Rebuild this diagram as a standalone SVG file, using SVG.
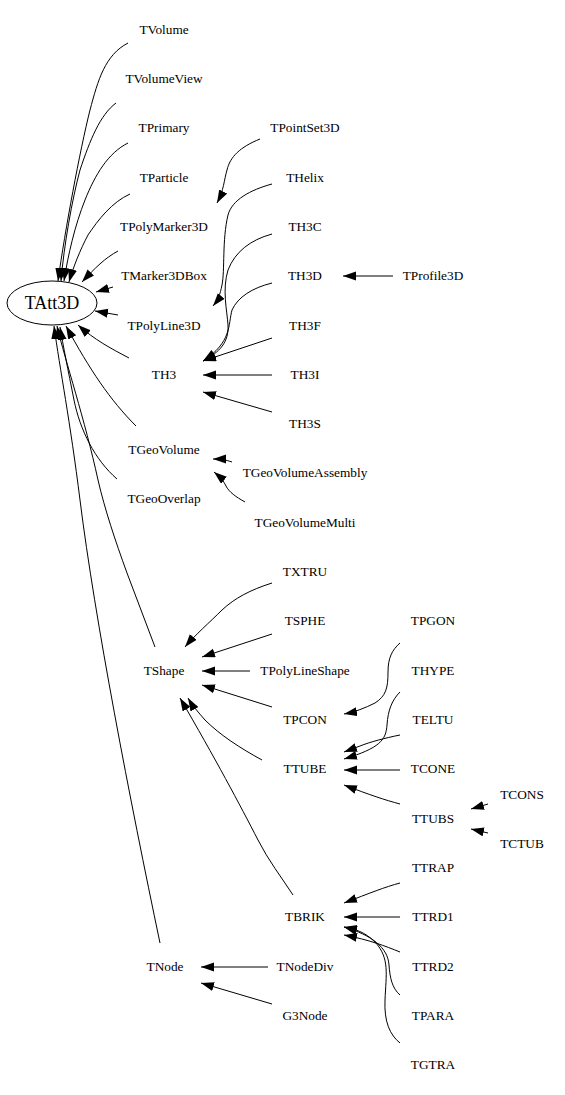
<svg xmlns="http://www.w3.org/2000/svg" width="565" height="1095" viewBox="0 0 565 1095">
<style>
text{font-family:"Liberation Serif","Times New Roman",serif;font-size:13.3px;text-anchor:middle;fill:#000}
.big{font-size:18px}
.e{fill:none;stroke:#000;stroke-width:1;marker-end:url(#ah)}
</style>
<defs>
<marker id="ah" markerUnits="userSpaceOnUse" markerWidth="14" markerHeight="10" refX="13" refY="4.5" orient="auto"><path d="M0,0 L13,4.5 L0,9 z" fill="#000"/></marker>
</defs>
<rect width="565" height="1095" fill="#fff"/>
<g id="connectors">
<path class="e" d="M128,43 C105,55 98,80 90,110 C80,150 65,230 58,281"/>
<path class="e" d="M116,103 C100,115 90,140 80,170 C72,200 64,245 61,281"/>
<path class="e" d="M128,143 C108,153 95,175 85,200 C75,225 68,255 64,281"/>
<path class="e" d="M130,194 C112,202 98,220 88,235 C80,250 73,268 69,282"/>
<path class="e" d="M118,251 C105,258 95,268 82,282"/>
<path class="e" d="M113,287 L96,292"/>
<path class="e" d="M118,315 L95,311"/>
<path class="e" d="M129,358 C110,348 95,340 78,325"/>
<path class="e" d="M136,426 C110,400 90,370 66,326"/>
<path class="e" d="M117,479 C95,460 80,430 74,400 C68,370 63,345 60,327"/>
<path class="e" d="M155,647 L127,573 C115,540 105,510 98,480 C85,420 65,360 57,326"/>
<path class="e" d="M160,943 C130,800 95,620 80,500 C70,420 60,370 54,326"/>
<path class="e" d="M260,139 C240,147 230,157 227,170 C224,180 224,190 217,203"/>
<path class="e" d="M272,184 C250,190 232,200 228,215 C222,240 225,270 222,285 C220,295 218,300 213,306"/>
<path class="e" d="M272,234 C250,240 235,252 228,270 C222,290 227,310 228,325 C229,342 220,352 203,361"/>
<path class="e" d="M272,283 C252,288 238,297 232,310 C228,325 232,342 203,361"/>
<path class="e" d="M272,338 L203,361"/>
<path class="e" d="M272,375 L203,375"/>
<path class="e" d="M272,412 L203,392"/>
<path class="e" d="M393,276 L343,276"/>
<path class="e" d="M232,462 C226,460 222,459 213,459"/>
<path class="e" d="M245,502 C236,497 229,492 226,486 C223,480 220,477 214,472"/>
<path class="e" d="M272,583 C250,590 235,598 222,610 C210,622 195,635 185,647"/>
<path class="e" d="M272,634 L202,657"/>
<path class="e" d="M250,671 L202,671"/>
<path class="e" d="M272,707 L202,685"/>
<path class="e" d="M262,760 C240,748 220,735 205,720 C198,712 192,705 188,698"/>
<path class="e" d="M293,895 C282,878 268,860 258,840 C240,805 215,758 180,698"/>
<path class="e" d="M400,643 C392,650 388,658 388,672 C388,688 386,696 375,703 C365,708 355,712 344,714"/>
<path class="e" d="M400,692 C392,700 388,710 387,725 C386,740 380,748 344,759"/>
<path class="e" d="M400,735 C385,738 370,742 360,746 L344,752"/>
<path class="e" d="M400,770 L344,770"/>
<path class="e" d="M400,804 C385,800 370,795 344,785"/>
<path class="e" d="M488,804 L471,809"/>
<path class="e" d="M488,833 L471,829"/>
<path class="e" d="M400,883 C385,887 370,893 344,903"/>
<path class="e" d="M400,917 L344,917"/>
<path class="e" d="M400,952 C385,946 370,940 344,935"/>
<path class="e" d="M400,995 C392,988 390,978 389,965 C388,948 372,935 344,927"/>
<path class="e" d="M400,1043 C390,1035 384,1022 385,1000 C386,975 390,958 375,942 C365,932 355,929 344,927"/>
<path class="e" d="M268,967 L201,967"/>
<path class="e" d="M272,1004 L201,983"/>
</g>
<g id="TAtt3D"><ellipse cx="52" cy="303" rx="45" ry="22" fill="none" stroke="#000"/><text class="big" x="52" y="309">TAtt3D</text></g>
<g id="TVolume"><text x="164" y="34">TVolume</text></g>
<g id="TVolumeView"><text x="164" y="83">TVolumeView</text></g>
<g id="TPrimary"><text x="164" y="132">TPrimary</text></g>
<g id="TParticle"><text x="164" y="182">TParticle</text></g>
<g id="TPolyMarker3D"><text x="164" y="231">TPolyMarker3D</text></g>
<g id="TMarker3DBox"><text x="164" y="280">TMarker3DBox</text></g>
<g id="TPolyLine3D"><text x="164" y="330">TPolyLine3D</text></g>
<g id="TH3"><text x="164" y="379">TH3</text></g>
<g id="TGeoVolume"><text x="164" y="454">TGeoVolume</text></g>
<g id="TGeoOverlap"><text x="164" y="503">TGeoOverlap</text></g>
<g id="TShape"><text x="164" y="675">TShape</text></g>
<g id="TNode"><text x="165" y="971">TNode</text></g>
<g id="TPointSet3D"><text x="305" y="132">TPointSet3D</text></g>
<g id="THelix"><text x="305" y="182">THelix</text></g>
<g id="TH3C"><text x="305" y="231">TH3C</text></g>
<g id="TH3D"><text x="305" y="280">TH3D</text></g>
<g id="TH3F"><text x="305" y="330">TH3F</text></g>
<g id="TH3I"><text x="305" y="379">TH3I</text></g>
<g id="TH3S"><text x="305" y="428">TH3S</text></g>
<g id="TProfile3D"><text x="433" y="280">TProfile3D</text></g>
<g id="TGeoVolumeAssembly"><text x="305" y="477">TGeoVolumeAssembly</text></g>
<g id="TGeoVolumeMulti"><text x="305" y="527">TGeoVolumeMulti</text></g>
<g id="TXTRU"><text x="305" y="576">TXTRU</text></g>
<g id="TSPHE"><text x="305" y="625">TSPHE</text></g>
<g id="TPolyLineShape"><text x="305" y="675">TPolyLineShape</text></g>
<g id="TPCON"><text x="305" y="724">TPCON</text></g>
<g id="TTUBE"><text x="305" y="773">TTUBE</text></g>
<g id="TBRIK"><text x="305" y="921">TBRIK</text></g>
<g id="TNodeDiv"><text x="305" y="971">TNodeDiv</text></g>
<g id="G3Node"><text x="305" y="1020">G3Node</text></g>
<g id="TPGON"><text x="433" y="625">TPGON</text></g>
<g id="THYPE"><text x="433" y="675">THYPE</text></g>
<g id="TELTU"><text x="433" y="724">TELTU</text></g>
<g id="TCONE"><text x="433" y="773">TCONE</text></g>
<g id="TTUBS"><text x="433" y="823">TTUBS</text></g>
<g id="TCONS"><text x="522" y="799">TCONS</text></g>
<g id="TCTUB"><text x="522" y="848">TCTUB</text></g>
<g id="TTRAP"><text x="433" y="872">TTRAP</text></g>
<g id="TTRD1"><text x="433" y="921">TTRD1</text></g>
<g id="TTRD2"><text x="433" y="971">TTRD2</text></g>
<g id="TPARA"><text x="433" y="1020">TPARA</text></g>
<g id="TGTRA"><text x="433" y="1069">TGTRA</text></g>
</svg>
